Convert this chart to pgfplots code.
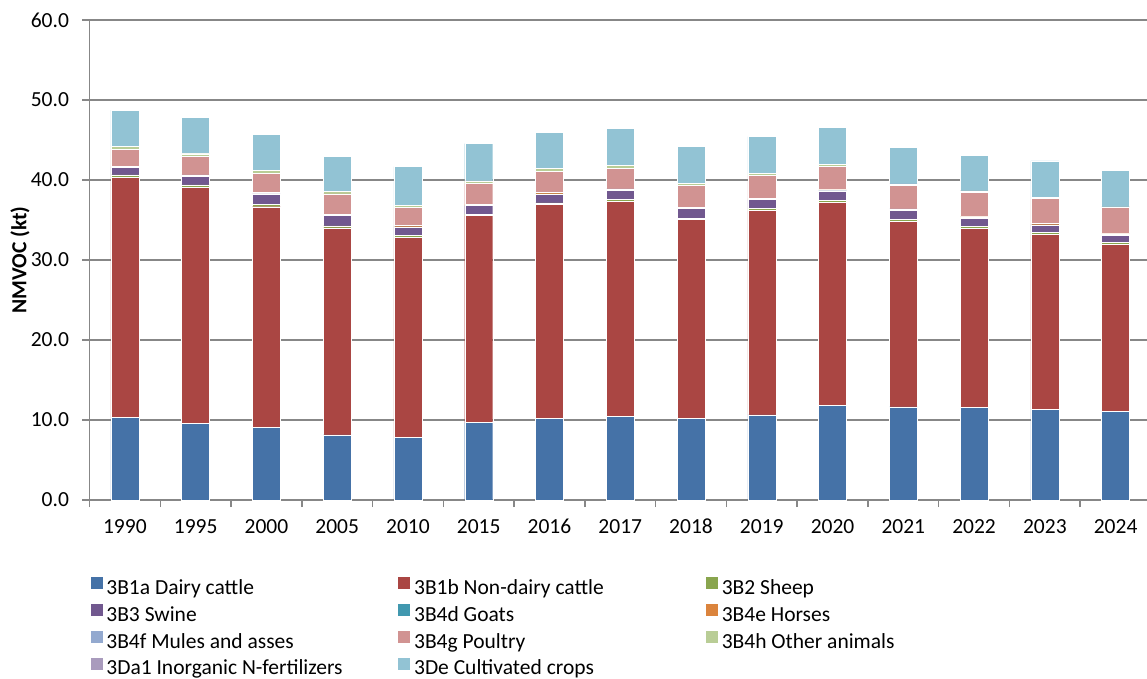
\documentclass[border=0pt]{standalone}
\usepackage{pgfplots}
\usepackage{pgfplotstable}
\usepackage{fontspec}
\setmainfont{Carlito}
\pgfplotsset{compat=1.18}

\definecolor{cDairy}{HTML}{4572A7}
\definecolor{cNonDairy}{HTML}{AA4643}
\definecolor{cSheep}{HTML}{89A54E}
\definecolor{cSwine}{HTML}{71588F}
\definecolor{cGoats}{HTML}{4198AF}
\definecolor{cHorses}{HTML}{DB843D}
\definecolor{cMules}{HTML}{93A9CF}
\definecolor{cPoultry}{HTML}{D19392}
\definecolor{cOther}{HTML}{B9CD96}
\definecolor{cInorg}{HTML}{A99BBD}
\definecolor{cCrops}{HTML}{92C3D4}
\definecolor{cAxis}{HTML}{878787}

% NMVOC emissions (kt) by source category
\pgfplotstableread{
i year dairy nondairy sheep swine goats horses mules poultry other inorg crops
0  1990 10.33 29.96 0.34 0.95 0.02 0.11 0.02 2.07 0.40 0.02 4.53
1  1995  9.58 29.46 0.34 1.10 0.02 0.11 0.02 2.35 0.30 0.02 4.56
2  2000  9.08 27.58 0.33 1.29 0.02 0.16 0.02 2.39 0.33 0.02 4.52
3  2005  8.13 25.88 0.25 1.29 0.02 0.12 0.02 2.55 0.33 0.02 4.36
4  2010  7.83 24.96 0.29 1.05 0.02 0.16 0.02 2.21 0.29 0.02 4.82
5  2015  9.71 25.83 0.21 1.04 0.02 0.13 0.02 2.58 0.34 0.02 4.64
6  2016 10.17 26.75 0.21 1.12 0.02 0.17 0.02 2.58 0.38 0.02 4.56
7  2017 10.46 26.83 0.25 1.13 0.02 0.17 0.02 2.58 0.33 0.02 4.61
8  2018 10.17 24.87 0.21 1.17 0.02 0.12 0.02 2.71 0.29 0.02 4.61
9  2019 10.63 25.54 0.25 1.12 0.02 0.13 0.02 2.83 0.25 0.02 4.61
10 2020 11.83 25.34 0.29 1.17 0.02 0.12 0.02 2.88 0.25 0.02 4.60
11 2021 11.63 23.16 0.25 1.13 0.02 0.17 0.02 2.95 0.17 0.02 4.52
12 2022 11.58 22.34 0.25 1.04 0.02 0.17 0.02 3.00 0.21 0.02 4.43
13 2023 11.33 21.84 0.25 0.96 0.02 0.16 0.02 3.13 0.08 0.02 4.57
14 2024 11.08 20.84 0.25 0.91 0.02 0.17 0.02 3.29 0.05 0.02 4.57
}\nmvoc

\newcommand\legtxt[1]{\makebox[292pt][l]{#1}}

\begin{document}
\begin{tikzpicture}
\begin{axis}[
  at={(0,0)}, anchor=south west,
  scale only axis, width=1061.5pt, height=480pt,
  ybar stacked, bar width=28pt,
  xmin=-0.5, xmax=14.5, ymin=0, ymax=60,
  xtick={0,...,14},
  xticklabels={1990,1995,2000,2005,2010,2015,2016,2017,2018,2019,2020,2021,2022,2023,2024},
  major x tick style={draw=none},
  minor xtick={-0.5,0.5,...,14.5},
  ytick={0,10,...,60},
  tick align=outside,
  major tick length=7pt, minor tick length=7pt,
  tick style={cAxis, line width=1.5pt},
  axis x line*=bottom, axis y line*=left,
  axis line style={cAxis, line width=1.8pt},
  ymajorgrids, grid style={cAxis, line width=1.8pt},
  font=\fontsize{21.5}{25}\selectfont,
  tick label style={font=\fontsize{21.5}{25}\selectfont},
  /pgf/number format/.cd, fixed, fixed zerofill, precision=1, assume math mode=true,
  /pgfplots/.cd,
  yticklabel style={xshift=-10pt},
  xticklabel style={anchor=north, text height=15pt, text depth=0pt, yshift=-8pt},
  ylabel={\textbf{NMVOC (kt)}},
  y label style={at={(axis description cs:0,0.5)}, anchor=center, yshift=69.5pt},
  every axis plot/.append style={draw=white, line width=0.4pt},
  legend columns=3,
  legend style={at={(axis description cs:0,0)}, anchor=north west,
    xshift=-2pt, yshift=-75pt, draw=none, fill=none,
    font=\fontsize{21.5}{25}\selectfont,
    nodes={inner sep=0pt, text height=15pt, text depth=5pt}, column sep=0pt, row sep=4.9pt,
    cells={anchor=west}},
  legend image code/.code={
    \path[#1, draw=none] (0pt,0pt) rectangle (12pt,12pt);
    \path (15.5pt,0pt);},
]
\addplot[fill=cDairy]    table[x=i, y=dairy]    {\nmvoc};
\addlegendentry{\legtxt{3B1a Dairy cattle}}
\addplot[fill=cNonDairy] table[x=i, y=nondairy] {\nmvoc};
\addlegendentry{\legtxt{3B1b Non-dairy cattle}}
\addplot[fill=cSheep]    table[x=i, y=sheep]    {\nmvoc};
\addlegendentry{\legtxt{3B2 Sheep}}
\addplot[fill=cSwine]    table[x=i, y=swine]    {\nmvoc};
\addlegendentry{\legtxt{3B3 Swine}}
\addplot[fill=cGoats]    table[x=i, y=goats]    {\nmvoc};
\addlegendentry{\legtxt{3B4d Goats}}
\addplot[fill=cHorses]   table[x=i, y=horses]   {\nmvoc};
\addlegendentry{\legtxt{3B4e Horses}}
\addplot[fill=cMules]    table[x=i, y=mules]    {\nmvoc};
\addlegendentry{\legtxt{3B4f Mules and asses}}
\addplot[fill=cPoultry]  table[x=i, y=poultry]  {\nmvoc};
\addlegendentry{\legtxt{3B4g Poultry}}
\addplot[fill=cOther]    table[x=i, y=other]    {\nmvoc};
\addlegendentry{\legtxt{3B4h Other animals}}
\addplot[fill=cInorg]    table[x=i, y=inorg]    {\nmvoc};
\addlegendentry{\legtxt{3Da1 Inorganic N-fertilizers}}
\addplot[fill=cCrops]    table[x=i, y=crops]    {\nmvoc};
\addlegendentry{\legtxt{3De Cultivated crops}}
\end{axis}
\pgfresetboundingbox
\path (-89.5pt,-179pt) rectangle (1057.5pt,500pt);
\end{tikzpicture}
\end{document}
